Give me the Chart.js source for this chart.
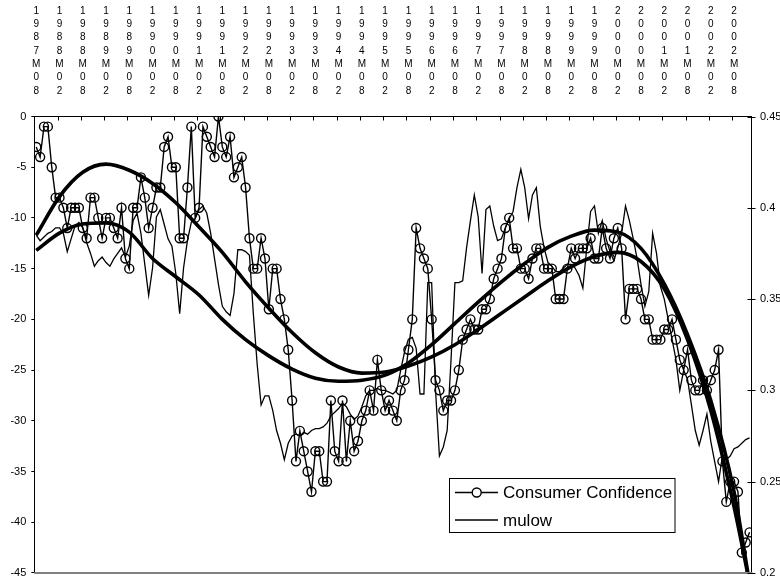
<!DOCTYPE html>
<html><head><meta charset="utf-8">
<script src="https://cdn.jsdelivr.net/npm/chart.js@4.4.0/dist/chart.umd.min.js"></script>
<style>html,body{margin:0;padding:0;background:#fff;}</style>
</head><body>
<canvas id="c" width="780" height="588"></canvas>
<script>
// Tick labels: every 6th month, 1987M08 .. 2002M08
const tickLabels = ["1987M08","1988M02","1988M08","1989M02","1989M08","1990M02","1990M08","1991M02","1991M08","1992M02","1992M08","1993M02","1993M08","1994M02","1994M08","1995M02","1995M08","1996M02","1996M08","1997M02","1997M08","1998M02","1998M08","1999M02","1999M08","2000M02","2000M08","2001M02","2001M08","2002M02","2002M08"];
const leftTicks = [0,-5,-10,-15,-20,-25,-30,-35,-40,-45];
const rightTicks = [0.2,0.25,0.3,0.35,0.4,0.45];

// Monthly series, 1987M08 .. 2002M12 (185 months)
const consumerConfidence = [
-3,-4,-1,-1,-5,-8,-8,-9,-11,-9,
-9,-9,-11,-12,-8,-8,-10,-12,-10,-10,
-11,-12,-9,-14,-15,-9,-9,-6,-8,-11,
-9,-7,-7,-3,-2,-5,-5,-12,-12,-7,
-1,-10,-9,-1,-2,-3,-4,0,-3,-4,
-2,-6,-5,-4,-7,-12,-15,-15,-12,-14,
-19,-15,-15,-18,-20,-23,-28,-34,-31,-33,
-35,-37,-33,-33,-36,-36,-28,-33,-34,-28,
-34,-30,-33,-32,-30,-29,-27,-29,-24,-27,
-29,-28,-29,-30,-27,-26,-23,-20,-11,-13,
-14,-15,-20,-26,-27,-29,-28,-28,-27,-25,
-22,-21,-20,-21,-21,-19,-19,-18,-16,-15,
-14,-11,-10,-13,-13,-15,-15,-16,-14,-13,
-13,-15,-15,-15,-18,-18,-18,-15,-13,-14,
-13,-13,-13,-12,-14,-14,-11,-13,-14,-12,
-11,-13,-20,-17,-17,-17,-18,-20,-20,-22,
-22,-22,-21,-21,-20,-22,-24,-25,-23,-26,
-27,-27,-26,-27,-26,-25,-23,-34,-38,-36,
-36,-37,-43,-42,-41];

const mulow = [
0.385,0.382,0.384,0.386,0.387,0.389,0.389,0.386,0.376,0.383,
0.390,0.392,0.389,0.381,0.375,0.368,0.371,0.373,0.370,0.368,
0.372,0.375,0.378,0.373,0.379,0.393,0.397,0.386,0.369,0.352,
0.367,0.395,0.399,0.391,0.383,0.379,0.364,0.342,0.367,0.382,
0.392,0.394,0.399,0.401,0.397,0.386,0.372,0.358,0.346,0.343,
0.341,0.353,0.377,0.377,0.376,0.374,0.342,0.314,0.292,0.297,
0.297,0.289,0.278,0.271,0.262,0.271,0.275,0.276,0.275,0.277,
0.276,0.278,0.279,0.279,0.280,0.282,0.286,0.288,0.290,0.293,
0.291,0.287,0.284,0.286,0.291,0.297,0.300,0.300,0.301,0.300,
0.300,0.299,0.298,0.300,0.311,0.321,0.328,0.329,0.323,0.298,
0.298,0.359,0.359,0.300,0.264,0.269,0.278,0.317,0.359,0.359,
0.360,0.378,0.393,0.407,0.395,0.364,0.399,0.401,0.390,0.382,
0.383,0.389,0.394,0.398,0.411,0.421,0.411,0.394,0.407,0.411,
0.390,0.378,0.370,0.368,0.365,0.365,0.367,0.369,0.369,0.367,
0.363,0.356,0.378,0.398,0.401,0.386,0.393,0.383,0.376,0.371,
0.378,0.386,0.401,0.393,0.383,0.372,0.358,0.346,0.354,0.386,
0.375,0.357,0.350,0.339,0.328,0.317,0.300,0.311,0.306,0.292,
0.278,0.270,0.278,0.287,0.272,0.261,0.250,0.264,0.262,0.264,
0.268,0.269,0.271,0.273,0.274];

// Thick trend curves, read at every 6th month (left-axis units)
const trendMonths = [0,6,12,18,24,30,36,42,48,54,60,66,72,78,84,90,96,102,108,114,120,126,132,138,144,150,156,162,168,174,180,184];
const trendUpper = [-11.7,-7.9,-5.5,-4.7,-5.3,-6.6,-8.5,-10.9,-13.4,-16.3,-18.9,-21.3,-23.3,-24.7,-25.3,-25.2,-24.6,-23.7,-22.5,-21,-19.4,-17.8,-16.2,-14.8,-13.8,-13.4,-14.3,-17,-22,-29,-38.5,-46];
const trendLower = [-13.2,-11.5,-10.6,-10.5,-11.4,-14,-15.8,-17.6,-20,-22,-23.6,-24.9,-25.8,-26.1,-26,-25.5,-24.3,-22.5,-20.4,-18.3,-16.3,-14.5,-12.9,-11.8,-11.2,-11.4,-13,-16.5,-21.5,-28,-37,-46];

const FONT = '"Liberation Sans", Arial, sans-serif';
const toXY = arr => arr.map((v,i)=>({x:i,y:v}));
const toTrend = arr => arr.map((v,k)=>({x:trendMonths[k],y:v}));

const extras = {
  id:'extras',
  afterDraw(chart){
    const ctx = chart.ctx, a = chart.chartArea;
    const xs = chart.scales.x, y1 = chart.scales.y1;
    ctx.save();
    // plot-area bottom border (grey)
    ctx.strokeStyle = '#808080'; ctx.lineWidth = 2;
    ctx.beginPath(); ctx.moveTo(a.left, a.bottom); ctx.lineTo(a.right+1, a.bottom); ctx.stroke();
    // top axis inward tick marks at category boundaries
    ctx.strokeStyle = '#000'; ctx.lineWidth = 1;
    ctx.beginPath();
    for (let k=0;k<tickLabels.length;k++){
      const px = Math.round(xs.getPixelForValue(k*6-0.5))+0.5;
      ctx.moveTo(px, a.top); ctx.lineTo(px, a.top+4);
    }
    // right axis crossing ticks
    rightTicks.forEach(v=>{
      const py = Math.round(y1.getPixelForValue(v))+0.5;
      ctx.moveTo(a.right-4, py); ctx.lineTo(a.right+4, py);
    });
    ctx.stroke();
    // legend
    const ds = chart.data.datasets;
    const bx=449.5, by=478.5, bw=225.5, bh=54;
    ctx.fillStyle='#fff'; ctx.fillRect(bx,by,bw,bh);
    ctx.strokeStyle='#000'; ctx.lineWidth=1; ctx.strokeRect(bx,by,bw,bh);
    const rows=[492.5,520];
    ctx.font = '17px '+FONT; ctx.textBaseline='middle'; ctx.textAlign='left'; ctx.fillStyle='#000';
    [0,1].forEach((d,r)=>{
      const yy=rows[r];
      ctx.lineWidth = ds[d].borderWidth;
      ctx.beginPath(); ctx.moveTo(455,yy); ctx.lineTo(498,yy); ctx.stroke();
      if (ds[d].pointRadius>0){
        ctx.beginPath(); ctx.arc(476.7,yy,ds[d].pointRadius,0,Math.PI*2);
        ctx.fillStyle='#fff'; ctx.fill(); ctx.lineWidth=ds[d].pointBorderWidth; ctx.stroke();
        ctx.fillStyle='#000';
      }
      ctx.fillText(ds[d].label, 503, yy+1);
    });
    ctx.restore();
  }
};

new Chart(document.getElementById('c'), {
  type:'line',
  data:{ datasets:[
    {label:'Consumer Confidence', data:toXY(consumerConfidence), yAxisID:'y', borderColor:'#000', borderWidth:1.4,
     pointRadius:4.5, pointStyle:'circle', pointBorderColor:'#000', pointBorderWidth:1.4, pointBackgroundColor:'rgba(0,0,0,0)', tension:0, order:3},
    {label:'mulow', data:toXY(mulow), yAxisID:'y1', borderColor:'#000', borderWidth:1.3, pointRadius:0, tension:0, order:4},
    {label:'trend1', data:toTrend(trendUpper), yAxisID:'y', borderColor:'#000', borderWidth:3.6, pointRadius:0, cubicInterpolationMode:'monotone', order:1},
    {label:'trend2', data:toTrend(trendLower), yAxisID:'y', borderColor:'#000', borderWidth:3.6, pointRadius:0, cubicInterpolationMode:'monotone', order:2}
  ]},
  options:{
    responsive:false, animation:false, devicePixelRatio:1,
    layout:{padding:{top:0,bottom:10,left:0,right:0}},
    plugins:{legend:{display:false}, tooltip:{enabled:false}},
    scales:{
      x:{type:'linear', position:'top', min:-0.5, max:184.5,
        grid:{display:true, drawOnChartArea:false, drawTicks:false, color:'#000'},
        border:{display:true, color:'#000', width:1},
        afterBuildTicks: s => { s.ticks = tickLabels.map((_,k)=>({value:k*6})); },
        afterFit: s => { s.height = 116.5; },
        ticks:{autoSkip:false, maxRotation:0, minRotation:0, padding:19, color:'#000',
          font:{family:FONT, size:10, lineHeight:1.333},
          callback: v => { const k=v/6; return (Number.isInteger(k) && tickLabels[k]) ? tickLabels[k].split('') : ''; }}
      },
      y:{type:'linear', position:'left', min:-45, max:0,
        grid:{display:true, drawOnChartArea:false, drawTicks:true, tickLength:3, color:'#000'},
        border:{display:true, color:'#000', width:1},
        afterBuildTicks: s => { s.ticks = leftTicks.map(v=>({value:v})); },
        afterFit: s => { s.width = 34.3; },
        ticks:{padding:5, color:'#000', font:{family:FONT, size:11}}
      },
      y1:{type:'linear', position:'right', min:0.2, max:0.45,
        grid:{display:true, drawOnChartArea:false, drawTicks:false, color:'#000'},
        border:{display:true, color:'#000', width:1},
        afterBuildTicks: s => { s.ticks = rightTicks.map(v=>({value:v})); },
        afterFit: s => { s.width = 28.5; },
        ticks:{padding:8.5, color:'#000', font:{family:FONT, size:11},
          callback: v => String(Number(v.toFixed(2)))}
      }
    }
  },
  plugins:[extras]
});
</script>
</body></html>
